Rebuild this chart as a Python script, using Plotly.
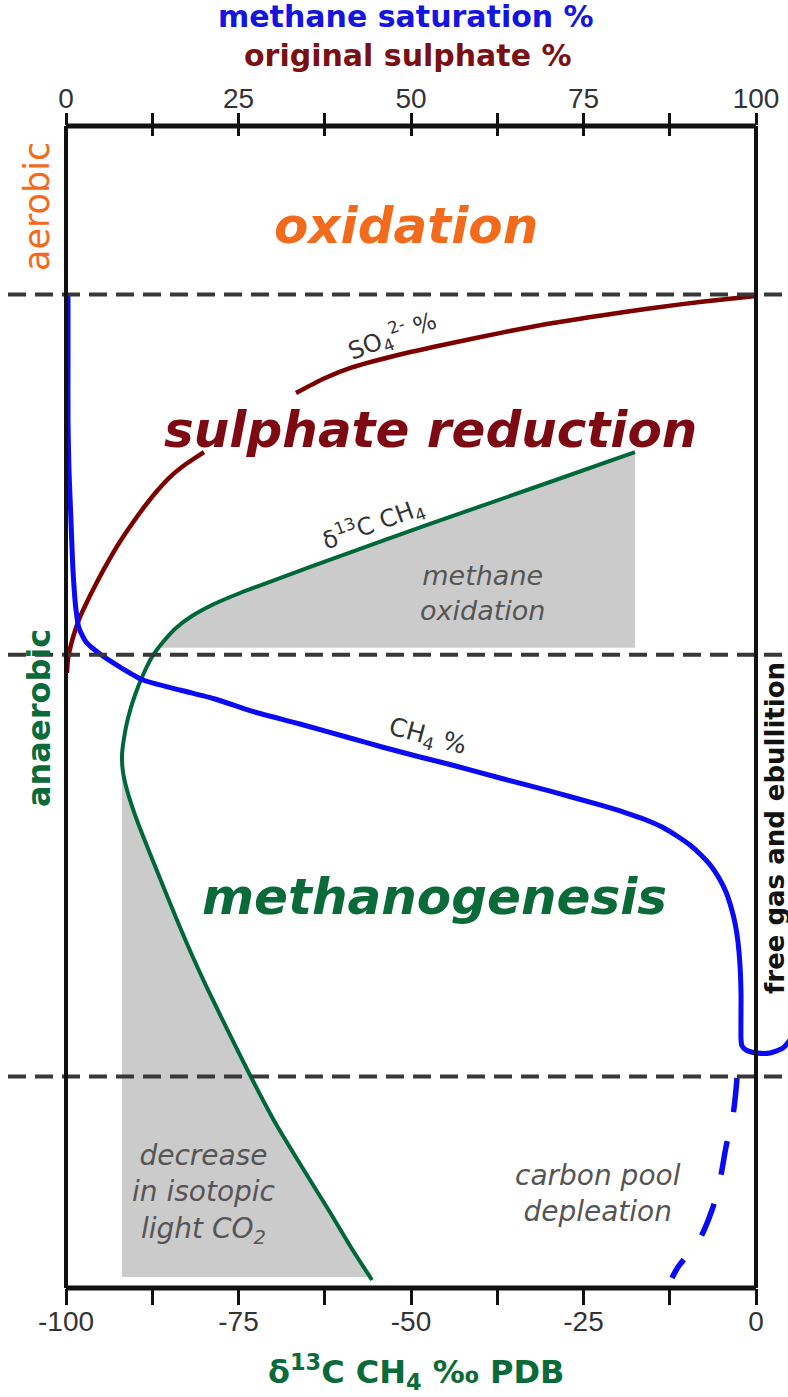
import numpy as np
import plotly.graph_objects as go

# ---------------- data ----------------
# depth: relative depth in the sediment profile (0 = top of frame, 100 = bottom of frame)
zone_bounds_depth = [14.5, 45.5, 81.8]

bottom_ticks = [-100, -75, -50, -25, 0]
bottom_tick_labels = ["-100", "-75", "-50", "-25", "0"]
bottom_minor_ticks = [-87.5, -62.5, -37.5, -12.5]
top_ticks = [0, 25, 50, 75, 100]
top_tick_labels = ["0", "25", "50", "75", "100"]
top_minor_ticks = [12.5, 37.5, 62.5, 87.5]

# delta13C of CH4 (per mil PDB, bottom axis)
d13c_ch4 = [-17.54, -32.75, -47.25, -60.29, -68.99, -74.78, -78.84, -81.74, -84.06, -85.94,
            -87.54, -88.84, -90.00, -91.01, -91.59, -91.88, -91.74, -91.16, -90.14, -88.84,
            -87.10, -84.93, -82.32, -79.42, -76.38, -73.19, -69.57, -65.80, -62.03, -58.55,
            -55.65]
d13c_depth = [28.06, 31.24, 34.25, 37.01, 38.90, 40.19, 41.22, 42.17, 43.20, 44.41,
              45.70, 47.25, 48.97, 50.95, 52.67, 54.13, 55.59, 57.14, 59.04, 61.10,
              63.68, 66.87, 70.57, 74.35, 78.05, 81.84, 85.89, 89.59, 93.20, 96.64,
              99.31]

# original sulphate % (top axis) - upper and lower part (gap behind the label)
sulphate_pct_upper = [100.0, 92.46, 85.07, 77.83, 70.58, 63.19, 55.94, 48.70, 41.45, 37.39, 33.33]
sulphate_depth_upper = [14.63, 15.10, 15.66, 16.28, 16.95, 17.78, 18.67, 19.62, 20.78, 21.73, 22.98]
sulphate_pct_lower = [20.00, 17.39, 15.07, 13.19, 11.45, 9.86, 8.26, 6.81, 5.51, 4.20, 3.04,
                      2.03, 1.30, 0.72, 0.29, 0.14]
sulphate_depth_lower = [28.06, 29.09, 30.21, 31.41, 32.70, 33.99, 35.37, 36.75, 38.12, 39.59,
                        40.96, 42.25, 43.46, 44.66, 45.87, 47.07]

# methane saturation % (top axis)
ch4_pct = [0.29, 0.29, 0.29, 0.43, 0.72, 1.01, 1.45, 1.88, 2.90, 4.93, 7.83, 11.16,
           16.52, 21.59, 26.81, 33.91, 41.16, 45.80, 51.30, 55.94, 62.90, 70.58, 77.39,
           81.01, 83.91, 86.38, 88.55, 90.43, 92.03, 93.48, 94.64, 95.65, 96.38, 96.96,
           97.39, 97.68, 97.83, 97.83, 97.97, 98.55, 100.14, 102.03, 103.91, 104.93]
ch4_depth = [14.54, 19.28, 25.30, 29.60, 33.91, 38.21, 41.65, 43.20, 44.41, 45.44,
             46.56, 47.68, 48.54, 49.31, 50.34, 51.46, 52.67, 53.44, 54.30, 54.99,
             56.11, 57.31, 58.43, 59.08, 59.68, 60.33, 61.10, 61.88, 62.74, 63.68,
             64.72, 65.92, 67.21, 68.59, 70.22, 72.20, 74.78, 78.66, 79.17, 79.52,
             79.78, 79.78, 79.35, 78.66]
# carbon pool depletion (dashed continuation)
ch4_depl_pct = [97.25, 96.67, 95.65, 94.78, 93.62, 91.59, 88.70, 87.83]
ch4_depl_depth = [81.93, 85.11, 87.87, 90.71, 93.29, 96.04, 98.19, 99.14]

# shaded zones
methox_zone_right = -17.54
methox_zone_bottom = 44.9
co2_zone_bottom = 99.05

# ---------------- styling ----------------
W, H = 788, 1397
L, R, T, B = 66, 0, 126, 109
PX_PER_UNIT = 6.9          # plot px per axis unit
X_RANGE = [-100, -100 + (W - L - R) / PX_PER_UNIT]
X2_RANGE = [0, (W - L - R) / PX_PER_UNIT]

BLUE = "#0a0af5"
RED = "#7d0000"
GREEN = "#00673a"
ORANGE = "#f26b1d"
GREY = "#cbcbcb"
FONT = "DejaVu Sans"
TICKC = "#111111"


def px(xp):
    return (xp - L) / (W - L - R)


def py(yp):
    return (H - B - yp) / (H - T - B)


# ---------------- shaded polygons ----------------
g_x = np.array(d13c_ch4)
g_d = np.array(d13c_depth)
m_up = g_d <= methox_zone_bottom
x_cut = float(np.interp(methox_zone_bottom, g_d, g_x))
up_x = list(g_x[m_up]) + [x_cut, methox_zone_right, methox_zone_right]
up_y = list(g_d[m_up]) + [methox_zone_bottom, methox_zone_bottom, g_d[0]]

i_min = int(np.argmin(g_x))
co2_left = float(g_x[i_min])
m_lo = (np.arange(len(g_x)) >= i_min) & (g_d <= co2_zone_bottom)
x_cut2 = float(np.interp(co2_zone_bottom, g_d, g_x))
lo_x = list(g_x[m_lo]) + [x_cut2, co2_left]
lo_y = list(g_d[m_lo]) + [co2_zone_bottom, co2_zone_bottom]

fig = go.Figure()
for fx, fy in [(up_x, up_y), (lo_x, lo_y)]:
    fig.add_trace(go.Scatter(x=fx, y=fy, fill="toself", fillcolor=GREY, mode="lines",
                             line=dict(width=0), hoverinfo="skip", showlegend=False,
                             xaxis="x", yaxis="y"))

fig.add_trace(go.Scatter(x=d13c_ch4, y=d13c_depth, mode="lines",
                         line=dict(color=GREEN, width=4, shape="spline", smoothing=0.6),
                         showlegend=False, xaxis="x", yaxis="y"))

fig.add_trace(go.Scatter(x=sulphate_pct_upper + [None] + sulphate_pct_lower,
                         y=sulphate_depth_upper + [None] + sulphate_depth_lower,
                         mode="lines", connectgaps=False,
                         line=dict(color=RED, width=4.5, shape="spline", smoothing=0.6),
                         showlegend=False, xaxis="x2", yaxis="y"))

fig.add_trace(go.Scatter(x=ch4_pct, y=ch4_depth, mode="lines",
                         line=dict(color=BLUE, width=5, shape="spline", smoothing=0.6),
                         showlegend=False, xaxis="x2", yaxis="y"))
fig.add_trace(go.Scatter(x=ch4_depl_pct, y=ch4_depl_depth, mode="lines",
                         line=dict(color=BLUE, width=5.5, dash="34px,30px", shape="spline"),
                         showlegend=False, xaxis="x2", yaxis="y"))
# carriers for the extra tick-mark axes
for ax in ["x3", "x4", "x5"]:
    fig.add_trace(go.Scatter(x=[None], y=[None], xaxis=ax, yaxis="y", showlegend=False))

# ---------------- shapes: zone boundaries and frame ----------------
shapes = []
for d in zone_bounds_depth:
    shapes.append(dict(type="line", xref="paper", yref="y", x0=px(8), x1=1.0, y0=d, y1=d,
                       line=dict(color="#383838", width=4, dash="18px,9px")))
x_right = px(L + 100 * PX_PER_UNIT)
shapes += [
    dict(type="line", xref="paper", yref="paper", x0=0, x1=0, y0=0, y1=1, line=dict(color=TICKC, width=4)),
    dict(type="line", xref="paper", yref="paper", x0=x_right, x1=x_right, y0=0, y1=1, line=dict(color=TICKC, width=4)),
    dict(type="line", xref="paper", yref="paper", x0=0, x1=x_right, y0=1, y1=1, line=dict(color=TICKC, width=5)),
    dict(type="line", xref="paper", yref="paper", x0=0, x1=x_right, y0=0, y1=0, line=dict(color=TICKC, width=5)),
]

# ---------------- annotations ----------------
def ann(text, xp, yp, size, color, weight="normal", style="normal", angle=0):
    return dict(text=text, xref="paper", yref="paper", x=px(xp), y=py(yp),
                xanchor="center", yanchor="middle", showarrow=False, textangle=angle,
                font=dict(family=FONT, size=size, color=color, weight=weight, style=style))

annotations = [
    ann("methane saturation %", 406, 16, 30, "#1515e0", weight="bold"),
    ann("original sulphate %", 408, 56, 30, "#7a1014", weight="bold"),
    ann("oxidation", 406, 226, 50, ORANGE, weight="bold", style="italic"),
    ann("sulphate reduction", 431, 430, 50, "#7d0a12", weight="bold", style="italic"),
    ann("methanogenesis", 434, 897, 50, "#0b6b38", weight="bold", style="italic"),
    ann("aerobic", 37, 207, 35, ORANGE, angle=-90),
    ann("anaerobic", 39, 718, 32, "#0b6b38", weight="bold", angle=-90),
    ann("free gas and ebullition", 775, 828, 26, "#111111", weight="bold", angle=-90),
    ann("SO<sub>4</sub><sup>2-</sup> %", 392, 335, 24, "#333333", angle=-21),
    ann("δ<sup>13</sup>C CH<sub>4</sub>", 373, 523, 24, "#333333", angle=-20),
    ann("CH<sub>4</sub> %", 427, 737, 25, "#333333", angle=15),
    ann("methane<br>oxidation", 482, 593, 27, "#555555", style="italic"),
    ann("decrease<br>in isotopic<br>light CO<sub>2</sub>", 204, 1194, 28, "#555555", style="italic"),
    ann("carbon pool<br>depleation", 598, 1193, 28, "#555555", style="italic"),
    ann("δ<sup>13</sup>C CH<sub>4</sub> ‰ PDB", 416, 1372, 32, "#0b6b38", weight="bold"),
]

tickfont = dict(family="Liberation Sans", size=28, color="#333333")
plain = dict(showline=False, showgrid=False, zeroline=False, fixedrange=True)

fig.update_layout(
    width=W, height=H,
    margin=dict(l=L, r=R, t=T, b=B, pad=0),
    paper_bgcolor="white", plot_bgcolor="white",
    showlegend=False,
    # bottom axis: labels (short ticks hidden under the long ones of xaxis5)
    xaxis=dict(range=X_RANGE, tickvals=bottom_ticks, ticktext=bottom_tick_labels,
               ticks="outside", ticklen=8, tickwidth=3, tickcolor=TICKC,
               tickfont=tickfont, **plain),
    xaxis5=dict(range=X_RANGE, overlaying="x", side="bottom", anchor="y",
                tickvals=bottom_ticks, showticklabels=False,
                ticks="outside", ticklen=16, tickwidth=3, tickcolor=TICKC,
                minor=dict(tickvals=bottom_minor_ticks, ticks="outside", ticklen=16,
                           tickwidth=3, tickcolor=TICKC),
                **plain),
    # top axis: labels
    xaxis2=dict(range=X2_RANGE, overlaying="x", side="top", anchor="y",
                tickvals=top_ticks, ticktext=top_tick_labels,
                ticks="outside", ticklen=6, tickwidth=3, tickcolor=TICKC,
                tickfont=tickfont, **plain),
    xaxis3=dict(range=X2_RANGE, overlaying="x", side="top", anchor="y",
                tickvals=top_ticks, showticklabels=False,
                ticks="outside", ticklen=12, tickwidth=3, tickcolor=TICKC,
                minor=dict(tickvals=top_minor_ticks, ticks="outside", ticklen=12,
                           tickwidth=3, tickcolor=TICKC),
                **plain),
    xaxis4=dict(range=X2_RANGE, overlaying="x", side="top", anchor="y",
                tickvals=top_ticks, showticklabels=False,
                ticks="inside", ticklen=10, tickwidth=3, tickcolor=TICKC,
                minor=dict(tickvals=top_minor_ticks, ticks="inside", ticklen=10,
                           tickwidth=3, tickcolor=TICKC),
                **plain),
    yaxis=dict(range=[100, 0], visible=False, showgrid=False, zeroline=False, fixedrange=True),
    shapes=shapes,
    annotations=annotations,
)

fig.write_html("out.html", config={"displayModeBar": False},
               post_script="document.body.style.margin='0px';document.body.style.padding='0px';")
